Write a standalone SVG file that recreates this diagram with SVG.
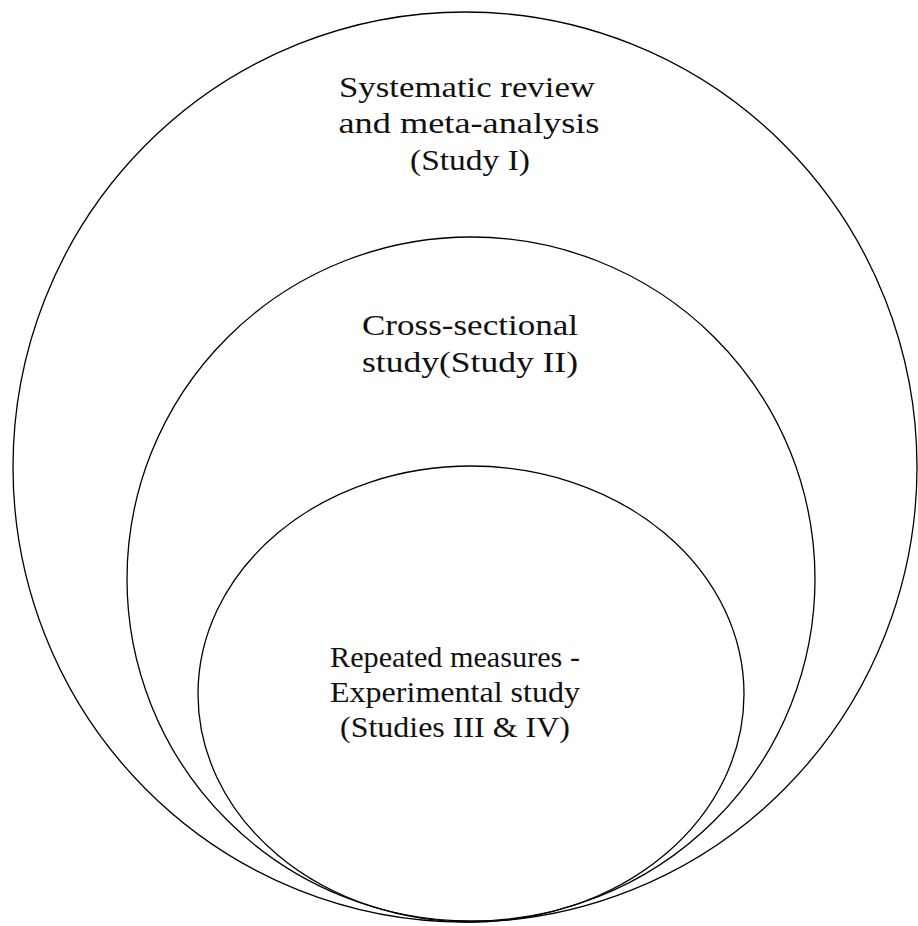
<svg xmlns="http://www.w3.org/2000/svg" width="918" height="926" viewBox="0 0 918 926">
<style>
.e{fill:none;stroke:#000;stroke-width:1.3}
.t{font-family:"Liberation Serif","Times New Roman",serif;font-size:30px;fill:#111;text-anchor:middle}
</style>
<rect width="918" height="926" fill="#fff"/>
<g id="outer">
<ellipse class="e" cx="465" cy="467" rx="452" ry="455"/>
<text class="t" x="467" y="97" textLength="256" lengthAdjust="spacingAndGlyphs">Systematic review</text>
<text class="t" x="469" y="133" textLength="261" lengthAdjust="spacingAndGlyphs">and meta-analysis</text>
<text class="t" x="470" y="170" textLength="120" lengthAdjust="spacingAndGlyphs">(Study I)</text>
</g>
<g id="middle">
<ellipse class="e" cx="471" cy="579" rx="344" ry="342"/>
<text class="t" x="470" y="335" textLength="216" lengthAdjust="spacingAndGlyphs">Cross-sectional</text>
<text class="t" x="470" y="372" textLength="216" lengthAdjust="spacingAndGlyphs">study(Study II)</text>
</g>
<g id="inner">
<ellipse class="e" cx="471" cy="694" rx="273" ry="228"/>
<text class="t" x="455" y="667" textLength="250" lengthAdjust="spacingAndGlyphs">Repeated measures -</text>
<text class="t" x="455" y="702" textLength="250" lengthAdjust="spacingAndGlyphs">Experimental study</text>
<text class="t" x="455" y="737" textLength="230" lengthAdjust="spacingAndGlyphs">(Studies III &amp; IV)</text>
</g>
</svg>
